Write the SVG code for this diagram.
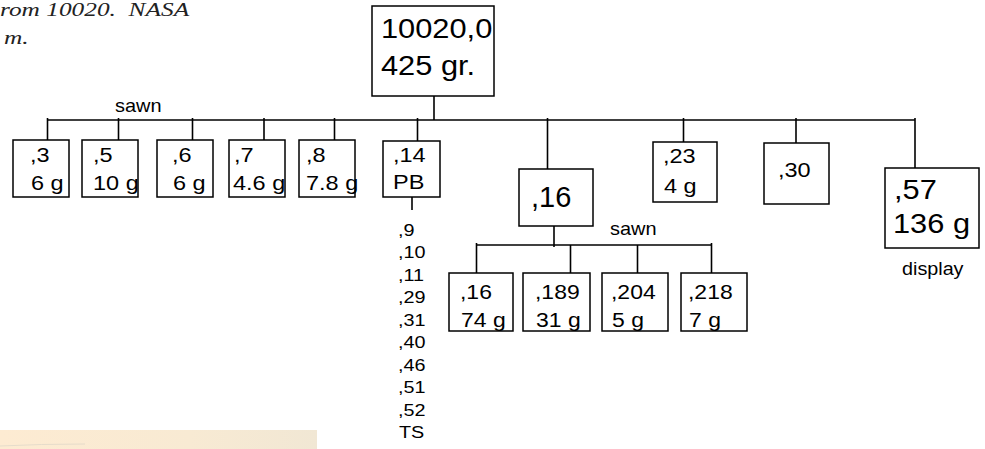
<svg xmlns="http://www.w3.org/2000/svg" width="985" height="449" viewBox="0 0 985 449">
<defs>
<linearGradient id="beige" x1="0" y1="0" x2="1" y2="0">
<stop offset="0" stop-color="#fdebd2"/>
<stop offset="0.6" stop-color="#f8ead3"/>
<stop offset="1" stop-color="#f1e7d4"/>
</linearGradient>
</defs>
<style>
.box{fill:#fff;stroke:#000;stroke-width:1.5}
.ln{stroke:#000;stroke-width:1.6;fill:none}
text{font-family:"Liberation Sans",Arial,sans-serif;fill:#000}
.hd{font-family:"Liberation Serif","Times New Roman",serif;font-style:italic;font-size:19.5px;fill:#222}
.f21{font-size:21px}
.f20{font-size:20.5px}
.f28{font-size:28px}
.f29{font-size:29px}
.f27{font-size:27px}
.fl{font-size:16.5px}
.fs{font-size:19px}
.fd{font-size:17.5px}
</style>
<rect width="985" height="449" fill="#fff"/>
<rect x="0" y="430" width="317" height="19" fill="url(#beige)"/>
<path d="M0,446 Q40,444 85,444" stroke="#e6dccb" stroke-width="1" fill="none"/>
<text class="hd" xml:space="preserve" transform="translate(0,16) scale(1.3,1)">rom 10020.  NASA</text>
<text class="hd" transform="translate(4,44) scale(1.3,1)">m.</text>

<g id="connectors">
<line class="ln" x1="434" y1="96" x2="434" y2="120"/>
<line class="ln" x1="47" y1="120" x2="915" y2="120"/>
<line class="ln" x1="47.5" y1="118" x2="47.5" y2="140"/>
<line class="ln" x1="118.5" y1="118" x2="118.5" y2="140"/>
<line class="ln" x1="192.5" y1="118" x2="192.5" y2="140"/>
<line class="ln" x1="264" y1="118" x2="264" y2="140"/>
<line class="ln" x1="334.5" y1="118" x2="334.5" y2="140"/>
<line class="ln" x1="417.5" y1="118" x2="417.5" y2="141"/>
<line class="ln" x1="547.5" y1="118" x2="547.5" y2="169"/>
<line class="ln" x1="683.5" y1="118" x2="683.5" y2="142"/>
<line class="ln" x1="796" y1="118" x2="796" y2="143"/>
<line class="ln" x1="915" y1="118" x2="915" y2="168"/>
<line class="ln" x1="412" y1="197" x2="412" y2="210"/>
<line class="ln" x1="554" y1="226" x2="554" y2="247"/>
<line class="ln" x1="476" y1="245" x2="712" y2="245"/>
<line class="ln" x1="476.5" y1="243" x2="476.5" y2="273"/>
<line class="ln" x1="570.5" y1="245" x2="570.5" y2="273"/>
<line class="ln" x1="637.5" y1="245" x2="637.5" y2="273"/>
<line class="ln" x1="711.5" y1="243" x2="711.5" y2="273"/>
</g>

<g id="root">
<rect class="box" x="372" y="6" width="122" height="90"/>
<text class="f28" transform="translate(381,38) scale(1.1,1)">10020,0</text>
<text class="f28" transform="translate(381,75) scale(1.1,1)">425 gr.</text>
</g>
<text class="fs" transform="translate(115,112) scale(1.05,1)">sawn</text>

<g id="n3">
<rect class="box" x="13" y="140" width="56" height="57"/>
<text class="f21" transform="translate(30,162) scale(1.12,1)">,3</text>
<text class="f21" transform="translate(31,190) scale(1.12,1)">6 g</text>
</g>
<g id="n5">
<rect class="box" x="82" y="140" width="56" height="57"/>
<text class="f21" transform="translate(93,162) scale(1.12,1)">,5</text>
<text class="f21" transform="translate(93,190) scale(1.12,1)">10 g</text>
</g>
<g id="n6">
<rect class="box" x="157" y="140" width="56" height="57"/>
<text class="f21" transform="translate(172,162) scale(1.12,1)">,6</text>
<text class="f21" transform="translate(173,190) scale(1.12,1)">6 g</text>
</g>
<g id="n7">
<rect class="box" x="229" y="140" width="56" height="57"/>
<text class="f21" transform="translate(234,162) scale(1.12,1)">,7</text>
<text class="f21" transform="translate(233,190) scale(1.12,1)">4.6 g</text>
</g>
<g id="n8">
<rect class="box" x="299" y="140" width="56" height="57"/>
<text class="f21" transform="translate(306,162) scale(1.12,1)">,8</text>
<text class="f21" transform="translate(306,190) scale(1.12,1)">7.8 g</text>
</g>
<g id="n14">
<rect class="box" x="383" y="141" width="57" height="56"/>
<text class="f21" transform="translate(393,162) scale(1.12,1)">,14</text>
<text class="f21" transform="translate(393,189) scale(1.12,1)">PB</text>
</g>
<g id="list14">
<text class="fl" transform="translate(398,235.5) scale(1.2,1)">,9</text>
<text class="fl" transform="translate(398,258) scale(1.2,1)">,10</text>
<text class="fl" transform="translate(398,280.5) scale(1.2,1)">,11</text>
<text class="fl" transform="translate(398,303) scale(1.2,1)">,29</text>
<text class="fl" transform="translate(398,325.5) scale(1.2,1)">,31</text>
<text class="fl" transform="translate(398,348) scale(1.2,1)">,40</text>
<text class="fl" transform="translate(398,370.5) scale(1.2,1)">,46</text>
<text class="fl" transform="translate(398,393) scale(1.2,1)">,51</text>
<text class="fl" transform="translate(398,415.5) scale(1.2,1)">,52</text>
<text class="fl" transform="translate(399,438) scale(1.2,1)">TS</text>
</g>
<g id="n16">
<rect class="box" x="519" y="169" width="74" height="57"/>
<text class="f29" transform="translate(531,207)">,16</text>
</g>
<text class="fs" transform="translate(610,235) scale(1.05,1)">sawn</text>
<g id="n23">
<rect class="box" x="653" y="142" width="64" height="60"/>
<text class="f21" transform="translate(663,163) scale(1.12,1)">,23</text>
<text class="f21" transform="translate(664,193) scale(1.12,1)">4 g</text>
</g>
<g id="n30">
<rect class="box" x="764" y="143" width="65" height="61"/>
<text class="f21" transform="translate(778,177) scale(1.12,1)">,30</text>
</g>
<g id="n57">
<rect class="box" x="885" y="168" width="94" height="80"/>
<text class="f27" transform="translate(894,199) scale(1.14,1)">,57</text>
<text class="f27" transform="translate(893,233) scale(1.14,1)">136 g</text>
</g>
<text class="fd" transform="translate(902,275) scale(1.13,1)">display</text>

<g id="s16">
<rect class="box" x="449" y="273" width="64" height="58"/>
<text class="f20" transform="translate(460,299) scale(1.12,1)">,16</text>
<text class="f20" transform="translate(461,327) scale(1.12,1)">74 g</text>
</g>
<g id="s189">
<rect class="box" x="523" y="273" width="67" height="58"/>
<text class="f20" transform="translate(535,299) scale(1.12,1)">,189</text>
<text class="f20" transform="translate(536,327) scale(1.12,1)">31 g</text>
</g>
<g id="s204">
<rect class="box" x="602" y="273" width="66" height="58"/>
<text class="f20" transform="translate(611,299) scale(1.12,1)">,204</text>
<text class="f20" transform="translate(612,327) scale(1.12,1)">5 g</text>
</g>
<g id="s218">
<rect class="box" x="681" y="273" width="66" height="58"/>
<text class="f20" transform="translate(688,299) scale(1.12,1)">,218</text>
<text class="f20" transform="translate(689,327) scale(1.12,1)">7 g</text>
</g>
</svg>
